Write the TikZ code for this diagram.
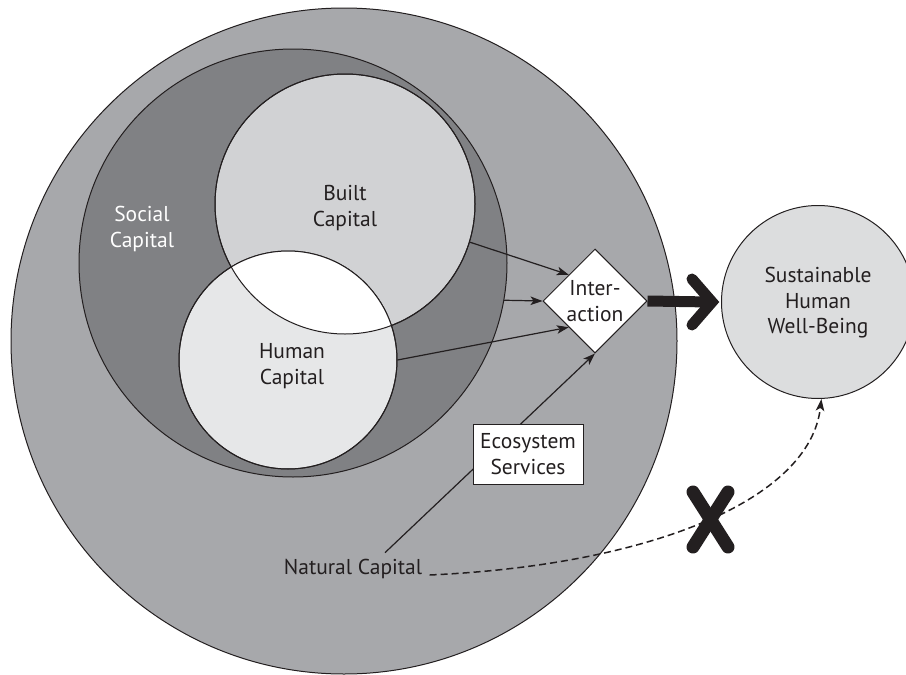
\documentclass[tikz,border=0pt]{standalone}
\usepackage{fontspec}
\setmainfont{PT Sans}
\usetikzlibrary{shapes.geometric,arrows.meta,calc}
\definecolor{bigc}{HTML}{A7A8AB}
\definecolor{socialc}{HTML}{808184}
\definecolor{builtc}{HTML}{D1D2D4}
\definecolor{humanc}{HTML}{E6E7E8}
\definecolor{susc}{HTML}{DCDDDE}
\definecolor{ink}{HTML}{231F20}
\tikzset{
  circ/.style={circle, draw=ink, line width=1pt, inner sep=0pt, align=center},
  outline/.style={draw=ink, line width=1pt},
  conn/.style={draw=ink, line width=1.2pt, -{Stealth[length=12pt,width=8.5pt,inset=3pt]}},
  dashconn/.style={draw=ink, line width=1.5pt, dash pattern=on 7pt off 4pt, -{Stealth[length=12pt,width=8.5pt,inset=3pt]}},
  heavy/.style={draw=ink, line width=11pt},
  chevron/.style={draw=ink, line width=11pt, line cap=round, line join=miter},
  xmark/.style={draw=ink, line width=13pt, line cap=round},
  labeltxt/.style={text=ink, align=center},
}
\begin{document}
\begin{tikzpicture}[x=1pt,y=-1pt,font=\fontsize{21.5}{25.5}\selectfont]
\useasboundingbox (0,0) rectangle (906,675);
% natural capital (outer circle)
\node[circ, fill=bigc, minimum size=666pt] (nat) at (344,341) {};
% social capital
\node[circ, fill=socialc, minimum size=428pt] (soc) at (293,263) {};
\node[text=white, align=center] (socl) at (142,229) {Social\\Capital};
% built capital
\node[circ, fill=builtc, minimum size=260pt] (built) at (345,204) {};
\node[labeltxt] (builtl) at (345,208) {Built\\Capital};
% human capital
\node[circ, fill=humanc, minimum size=218pt] (hum) at (288,360) {};
% overlap
\begin{scope}
  \clip (288,360) circle (109pt);
  \fill[white] (345,204) circle (130pt);
\end{scope}
\draw[outline] (345,204) circle (130pt);
\draw[outline] (288,360) circle (109pt);
\node[labeltxt] (huml) at (292,366) {Human\\Capital};
% sustainable well-being
\node[circ, fill=susc, minimum size=193pt] (sus) at (818,302) {};
\node[labeltxt] (susl) at (818,303) {Sustainable\\Human\\Well-Being};
% interaction
\node[diamond, draw=ink, line width=1pt, fill=white, inner sep=0pt, minimum width=104pt, minimum height=104pt, labeltxt] (inter) at (595,301) {Inter-\\action};
% natural capital label
\node[labeltxt] (natc) at (353,569) {Natural Capital};
% connectors
\draw[conn] (built.-17) -- (inter.north west);
\draw[conn] (soc.-10) -- (inter.west);
\draw[conn] (hum.east) -- (inter.south west);
\draw[conn] ([xshift=32pt,yshift=3pt]natc.north) -- (inter.south);
% ecosystem services box
\node[rectangle, draw=ink, line width=1pt, fill=white, minimum width=110pt, minimum height=60pt, labeltxt] (eco) at (528,454) {Ecosystem\\Services};
% thick arrow
\draw[heavy] (inter.east) -- ($(sus.west)+(-10,0)$);
\draw[chevron] ($(sus.west)+(-29,-23)$) -- ($(sus.west)+(-9,0)$) -- ($(sus.west)+(-29,23)$);
% dashed connector
\draw[dashconn] ([xshift=4pt,yshift=-6pt]natc.east) .. controls (650,565) and (810,500) .. (sus.-88);
% X mark
\draw[xmark] (693,492) -- (728,547);
\draw[xmark] (728,492) -- (693,547);
\end{tikzpicture}
\end{document}
